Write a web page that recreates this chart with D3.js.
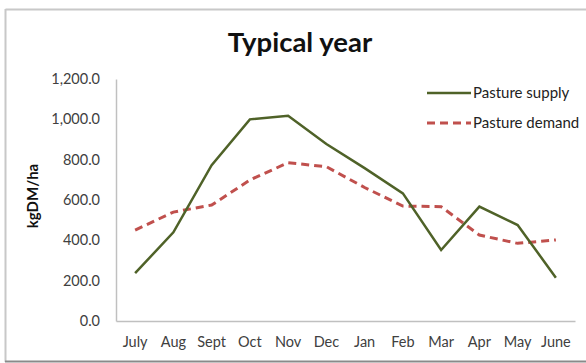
<!DOCTYPE html>
<html>
<head>
<meta charset="utf-8">
<script src="https://cdn.jsdelivr.net/npm/d3@7"></script>
<style>
  html, body { margin: 0; padding: 0; background: #fff; }
  svg { display: block; }
  text { font-family: Lato, "Open Sans", "Liberation Sans", sans-serif; }
</style>
</head>
<body>
<svg id="chart" width="586" height="363"></svg>
<script>
// Monthly pasture balance (kg DM/ha)
const months = ["July", "Aug", "Sept", "Oct", "Nov", "Dec", "Jan", "Feb", "Mar", "Apr", "May", "June"];
const pastureSupply = [237, 440, 773, 1000, 1018, 878, 758, 633, 352, 567, 476, 215];
const pastureDemand = [451, 540, 575, 699, 785, 765, 662, 570, 567, 426, 385, 402];
const yTicks = [0, 200, 400, 600, 800, 1000, 1200];
const seriesNames = ["Pasture supply", "Pasture demand"];

const svg = d3.select("#chart");
const W = 586, H = 363;
const plot = { left: 116, right: 575, top: 79, bottom: 321 };

// frame
svg.append("line").attr("x1", 5.5).attr("x2", W).attr("y1", 9.5).attr("y2", 9.5)
  .attr("stroke", "#c8c8c8").attr("stroke-width", 2);
svg.append("line").attr("x1", 5.5).attr("x2", 5.5).attr("y1", 9).attr("y2", 362)
  .attr("stroke", "#c8c8c8").attr("stroke-width", 2);
svg.append("line").attr("x1", 5).attr("x2", W).attr("y1", 361.5).attr("y2", 361.5)
  .attr("stroke", "#8a8a8a").attr("stroke-width", 2);

const x = d3.scaleBand().domain(months).range([plot.left, plot.right]);
const y = d3.scaleLinear().domain([0, 1200]).range([plot.bottom, plot.top]);

// y axis
const yAxis = svg.append("g").attr("transform", `translate(${plot.left},0)`)
  .call(d3.axisLeft(y).tickValues(yTicks).tickSize(0).tickPadding(16)
    .tickFormat(d => d3.format(",.1f")(d)));
yAxis.select(".domain").attr("stroke", "#c0c0c0").attr("stroke-width", 1.5);
yAxis.selectAll("text").attr("font-size", 14.5).attr("fill", "#404040");

// x axis
const xAxis = svg.append("g").attr("transform", `translate(0,${plot.bottom})`)
  .call(d3.axisBottom(x).tickSize(0).tickPadding(16));
xAxis.select(".domain").attr("stroke", "#c0c0c0").attr("stroke-width", 1.5);
xAxis.selectAll("text").attr("font-size", 14.5).attr("fill", "#404040");

// title
svg.append("text").attr("x", 300).attr("y", 52).attr("text-anchor", "middle")
  .attr("font-size", 27.5).attr("font-weight", "bold").attr("fill", "#111")
  .text("Typical year");

// y axis title
svg.append("text").attr("transform", "translate(38,196) rotate(-90)")
  .attr("text-anchor", "middle").attr("font-size", 15).attr("font-weight", "bold")
  .attr("fill", "#111").text("kgDM/ha");

const line = d3.line().x((d, i) => x(months[i]) + x.bandwidth() / 2).y(d => y(d));

svg.append("path").datum(pastureDemand).attr("d", line)
  .attr("fill", "none").attr("stroke", "#c0504d").attr("stroke-width", 3)
  .attr("stroke-dasharray", "8,5");
svg.append("path").datum(pastureSupply).attr("d", line)
  .attr("fill", "none").attr("stroke", "#4f6228").attr("stroke-width", 2.5);

// legend
const legend = svg.append("g");
const styles = [
  { stroke: "#4f6228", width: 2.5, dash: null },
  { stroke: "#c0504d", width: 3, dash: "8,5" }
];
seriesNames.forEach((name, i) => {
  const ly = 93 + i * 30;
  legend.append("line").attr("x1", 427).attr("x2", 471).attr("y1", ly).attr("y2", ly)
    .attr("stroke", styles[i].stroke).attr("stroke-width", styles[i].width)
    .attr("stroke-dasharray", styles[i].dash);
  legend.append("text").attr("x", 473).attr("y", ly).attr("dy", "0.35em")
    .attr("font-size", 15).attr("fill", "#222").text(name);
});
</script>
</body>
</html>
